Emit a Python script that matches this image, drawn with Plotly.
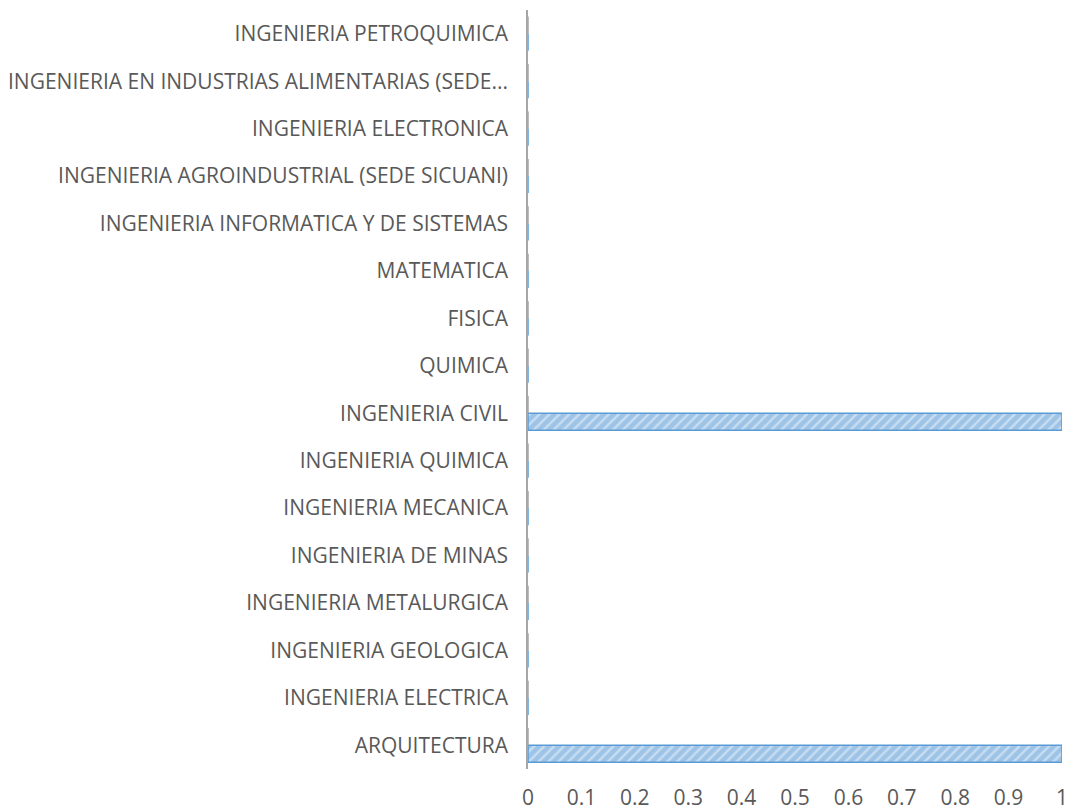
import plotly.graph_objects as go

categories = [
    "ARQUITECTURA",
    "INGENIERIA ELECTRICA",
    "INGENIERIA GEOLOGICA",
    "INGENIERIA METALURGICA",
    "INGENIERIA DE MINAS",
    "INGENIERIA MECANICA",
    "INGENIERIA QUIMICA",
    "INGENIERIA CIVIL",
    "QUIMICA",
    "FISICA",
    "MATEMATICA",
    "INGENIERIA INFORMATICA Y DE SISTEMAS",
    "INGENIERIA AGROINDUSTRIAL (SEDE SICUANI)",
    "INGENIERIA ELECTRONICA",
    "INGENIERIA EN INDUSTRIAS ALIMENTARIAS (SEDE...",
    "INGENIERIA PETROQUIMICA",
]
series_gray = [0, 0, 0, 0, 0, 0, 0, 0, 0, 0, 0, 0, 0, 0, 0, 0]
series_blue = [1, 0, 0, 0, 0, 0, 0, 1, 0, 0, 0, 0, 0, 0, 0, 0]
x_ticks = [0, 0.1, 0.2, 0.3, 0.4, 0.5, 0.6, 0.7, 0.8, 0.9, 1]
x_ticklabels = ["0", "0.1", "0.2", "0.3", "0.4", "0.5", "0.6", "0.7", "0.8", "0.9", "1"]

FONT = "Open Sans"
TXT = "#595959"
FS = 21

fig = go.Figure()
fig.add_trace(go.Bar(
    y=categories, x=series_blue, orientation="h", name="Serie 2",
    marker=dict(
        color="#9DC3E6",
        line=dict(color="#5B9BD5", width=1.5),
        pattern=dict(shape="/", fgcolor="#F2F7FC", bgcolor="#9DC3E6", size=7, solidity=0.35),
    ),
))
fig.add_trace(go.Bar(
    y=categories, x=series_gray, orientation="h", name="Serie 1",
    marker=dict(color="#A5A5A5", line=dict(color="#A5A5A5", width=1)),
))

fig.update_layout(
    width=1075, height=812,
    margin=dict(l=520, r=21, t=2, b=51),
    paper_bgcolor="white", plot_bgcolor="white",
    barmode="group", bargap=0.28, bargroupgap=0,
    showlegend=False,
    font=dict(family=FONT, size=FS, color=TXT),
)
fig.update_xaxes(
    range=[0, 1], tickvals=x_ticks, ticktext=x_ticklabels, automargin=False,
    showgrid=False, zeroline=False, showline=False, ticks="",
    tickfont=dict(family=FONT, size=FS, color=TXT), ticklabelstandoff=14,
)
fig.update_yaxes(
    categoryorder="array", categoryarray=categories, automargin=False,
    showgrid=False, zeroline=False, showline=True, linecolor="#A6A6A6", linewidth=1.5,
    ticks="", tickfont=dict(family=FONT, size=FS, color=TXT), ticklabelstandoff=14,
)

fig.write_html("out.html")
